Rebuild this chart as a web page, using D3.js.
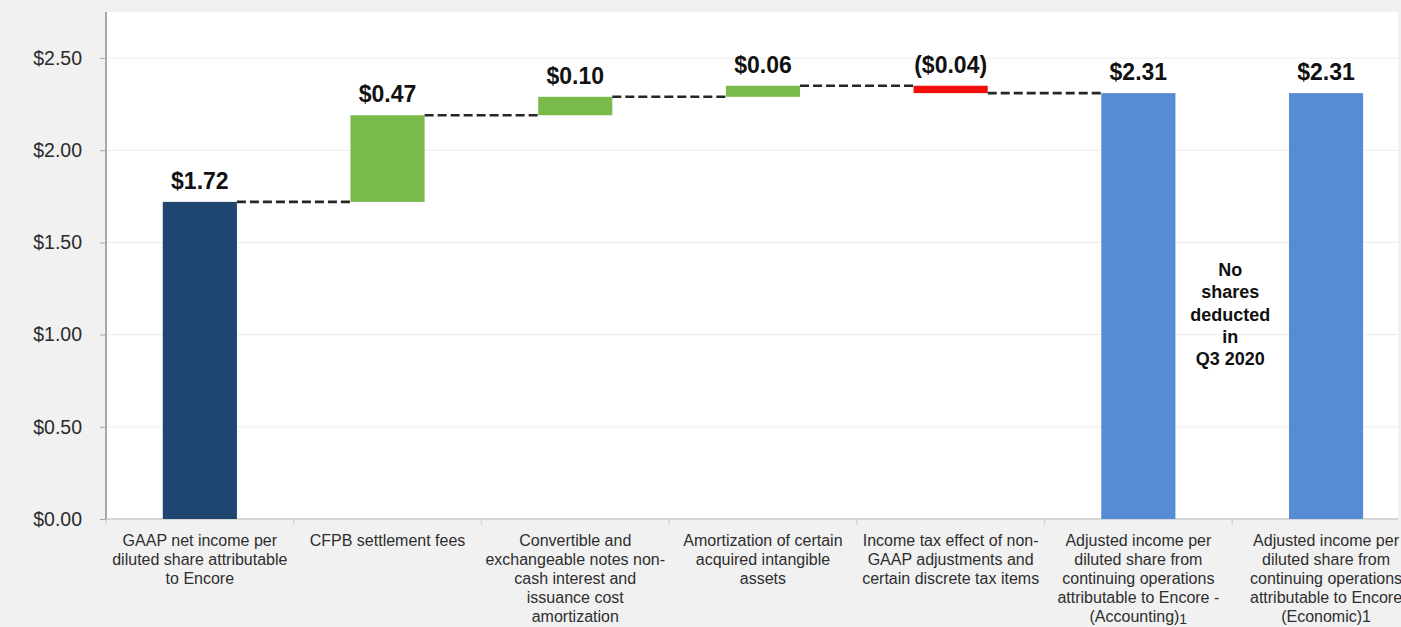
<!DOCTYPE html>
<html>
<head>
<meta charset="utf-8">
<script src="https://cdn.jsdelivr.net/npm/d3@7/dist/d3.min.js"></script>
<style>
  html, body { margin: 0; padding: 0; background: #f1f1f1; }
  svg { display: block; font-family: "Liberation Sans", Arial, sans-serif; }
</style>
</head>
<body>
<svg id="chart" width="1401" height="627"></svg>
<script>
// Bridge from GAAP EPS to adjusted EPS, Q3 2020
const categories = [
  "GAAP net income per diluted share attributable to Encore",
  "CFPB settlement fees",
  "Convertible and exchangeable notes non-cash interest and issuance cost amortization",
  "Amortization of certain acquired intangible assets",
  "Income tax effect of non-GAAP adjustments and certain discrete tax items",
  "Adjusted income per diluted share from continuing operations attributable to Encore - (Accounting)1",
  "Adjusted income per diluted share from continuing operations attributable to Encore (Economic)1"
];
const categoryLines = [
  ["GAAP net income per", "diluted share attributable", "to Encore"],
  ["CFPB settlement fees"],
  ["Convertible and", "exchangeable notes non-", "cash interest and", "issuance cost", "amortization"],
  ["Amortization of certain", "acquired intangible", "assets"],
  ["Income tax effect of non-", "GAAP adjustments and", "certain discrete tax items"],
  ["Adjusted income per", "diluted share from", "continuing operations", "attributable to Encore -", "(Accounting)|1"],
  ["Adjusted income per", "diluted share from", "continuing operations", "attributable to Encore", "(Economic)1"]
];
const values = [1.72, 0.47, 0.10, 0.06, -0.04, 2.31, 2.31];
const kinds = ["total", "step", "step", "step", "step", "total", "total"];
const valueLabels = ["$1.72", "$0.47", "$0.10", "$0.06", "($0.04)", "$2.31", "$2.31"];
const yTicks = [0, 0.5, 1.0, 1.5, 2.0, 2.5];
const noteLines = ["No", "shares", "deducted", "in", "Q3 2020"];

const colors = { first: "#1e4670", up: "#7aba4b", down: "#f20d0d", total: "#568cd4" };

const svg = d3.select("#chart");
const W = 1401, H = 627;
const plotLeft = 106, plotRight = 1398, plotTop = 12, plotBottom = 519;
const step = 187.7;

// white plotting surface
svg.append("rect").attr("x", 0).attr("y", 0).attr("width", W).attr("height", H).attr("fill", "#f1f1f1");
svg.append("rect").attr("x", plotLeft).attr("y", plotTop)
  .attr("width", plotRight - plotLeft).attr("height", plotBottom - plotTop).attr("fill", "#ffffff");

const y = d3.scaleLinear().domain([0, 2.75]).range([plotBottom, plotTop]);
const x = d3.scaleBand().domain(categories)
  .range([plotLeft, plotLeft + step * categories.length])
  .paddingInner(0.605).paddingOuter(0.3025);
const bw = x.bandwidth();

// waterfall segments
let running = 0;
const bars = categories.map((c, i) => {
  let start, end;
  if (kinds[i] === "total") { start = 0; end = values[i]; }
  else { start = running; end = running + values[i]; }
  running = end;
  let fill;
  if (i === 0) fill = colors.first;
  else if (kinds[i] === "total") fill = colors.total;
  else fill = values[i] >= 0 ? colors.up : colors.down;
  return { c, i, start, end, fill, label: valueLabels[i] };
});

// gridlines
svg.append("g").selectAll("line").data(yTicks.filter(d => d > 0)).join("line")
  .attr("x1", plotLeft).attr("x2", plotRight)
  .attr("y1", d => y(d)).attr("y2", d => y(d))
  .attr("stroke", "#ececec").attr("stroke-width", 1);

// x baseline and category separators
svg.append("line").attr("x1", plotLeft).attr("x2", plotRight)
  .attr("y1", plotBottom).attr("y2", plotBottom)
  .attr("stroke", "#d6d6d6").attr("stroke-width", 2);
svg.append("g").selectAll("line").data(d3.range(categories.length + 1)).join("line")
  .attr("x1", d => plotLeft + d * x.step()).attr("x2", d => plotLeft + d * x.step())
  .attr("y1", plotBottom).attr("y2", plotBottom + 6)
  .attr("stroke", "#d6d6d6").attr("stroke-width", 1.5);

// bars
svg.append("g").selectAll("rect").data(bars).join("rect")
  .attr("x", d => x(d.c))
  .attr("width", bw)
  .attr("y", d => y(Math.max(d.start, d.end)))
  .attr("height", d => Math.abs(y(d.start) - y(d.end)))
  .attr("fill", d => d.fill);

// dashed connectors between consecutive bars
svg.append("g").selectAll("line").data(bars.slice(0, 5)).join("line")
  .attr("x1", d => x(d.c) + bw)
  .attr("x2", d => x(categories[d.i + 1]))
  .attr("y1", d => y(d.end)).attr("y2", d => y(d.end))
  .attr("stroke", "#262626").attr("stroke-width", 2.6)
  .attr("stroke-dasharray", "9,4");

// value labels
svg.append("g").selectAll("text").data(bars).join("text")
  .attr("x", d => x(d.c) + bw / 2)
  .attr("y", d => y(Math.max(d.start, d.end)) - 13)
  .attr("text-anchor", "middle")
  .attr("font-size", 23).attr("font-weight", "bold").attr("fill", "#111")
  .text(d => d.label);

// y axis
const yAxis = d3.axisLeft(y).tickValues(yTicks)
  .tickFormat(d => "$" + d.toFixed(2)).tickSize(6).tickPadding(18);
const ga = svg.append("g").attr("transform", `translate(${plotLeft},0)`).call(yAxis);
ga.select(".domain").attr("stroke", "#a8a8a8").attr("stroke-width", 2)
  .attr("d", `M0,${plotTop}V${plotBottom}`);
ga.selectAll(".tick line").attr("stroke", "#a8a8a8");
ga.selectAll(".tick text").attr("font-size", 19.5).attr("fill", "#2b2b2b")
  .attr("font-family", "'Liberation Sans', Arial, sans-serif");

// category labels
const lab = svg.append("g").attr("font-size", 16).attr("fill", "#2e2e2e").attr("text-anchor", "middle");
categories.forEach((c, i) => {
  const cx = x(c) + bw / 2;
  const t = lab.append("text").attr("x", cx).attr("y", 546);
  categoryLines[i].forEach((ln, k) => {
    const parts = ln.split("|");
    t.append("tspan").attr("x", cx).attr("dy", k === 0 ? 0 : 19).text(parts[0]);
    if (parts.length > 1) {
      t.append("tspan").attr("font-size", 14).attr("dy", 2).text(parts[1]);
    }
  });
});

// note between the two adjusted bars
const noteX = plotLeft + 6 * x.step() - 2;
const note = svg.append("text").attr("x", noteX).attr("y", 276)
  .attr("text-anchor", "middle").attr("font-size", 18).attr("font-weight", "bold").attr("fill", "#111");
noteLines.forEach((ln, k) => {
  note.append("tspan").attr("x", noteX).attr("dy", k === 0 ? 0 : 22.3).text(ln);
});
</script>
</body>
</html>
